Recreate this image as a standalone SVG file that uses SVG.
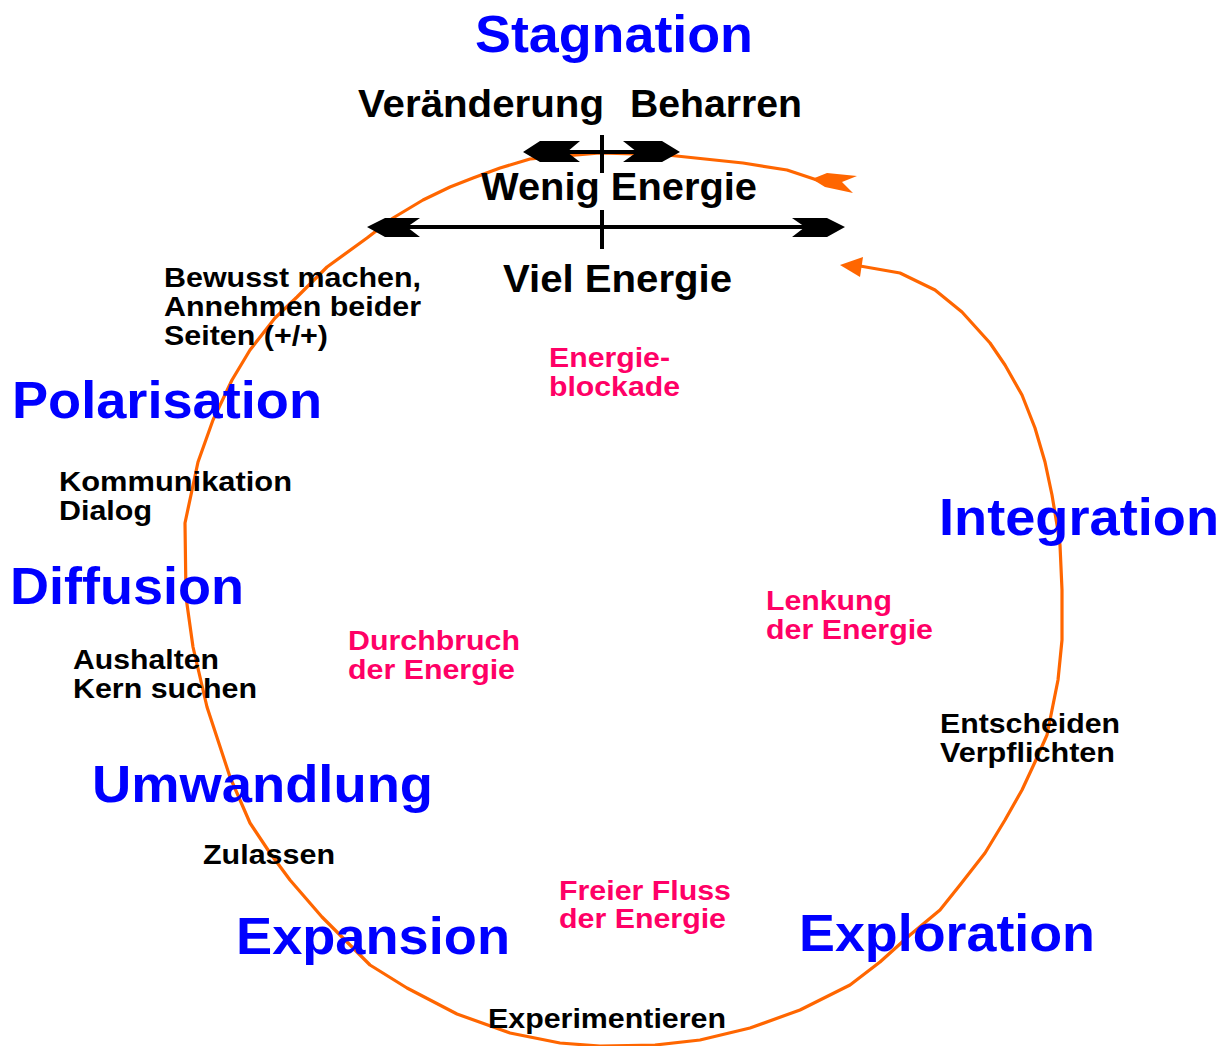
<svg xmlns="http://www.w3.org/2000/svg" width="1229" height="1046" viewBox="0 0 1229 1046">
<style>
text{font-family:"Liberation Sans",Arial,sans-serif;font-weight:bold}
.phase{fill:#0000ff;font-size:52px}
.big{fill:#000;font-size:39px}
.act{fill:#000;font-size:27px}
.en{fill:#ff0066;font-size:27px}
.orange{fill:none;stroke:#ff6600;stroke-width:3.2;stroke-linejoin:round}
.bar{stroke:#000;stroke-width:4;fill:none}
</style>
<rect width="1229" height="1046" fill="#fff"/>
<g id="connectors">
<polyline class="orange" points="860,266 900,273 935,290 962,312 990,343 1005,365 1022,395 1035,428 1045,462 1052,495 1057,525 1060,545 1062,590 1062,640 1058,680 1053,705 1047,735 1035,762 1022,790 1005,820 985,853 960,885 940,910 910,935 880,962 850,985 800,1010 750,1028 700,1040 655,1045 600,1046 560,1043 510,1033 457,1014 407,988 370,965 350,945 322,917 290,880 270,853 250,823 230,777 207,707 193,647 186,597 185,523 198,462 213,420 232,380 250,350 275,318 297,297 327,267 367,238 393,218 423,200 450,187 473,178 500,168 530,159 600,153 667,155 743,163 787,170 817,180 840,183"/>
<polygon fill="#ff6600" points="840,265 863,257 860,277"/>
<polygon fill="#ff6600" points="812,179 827,173 857,176 842,182 853,193 825,187"/>
<line class="bar" x1="565" y1="152" x2="640" y2="152"/>
<line class="bar" x1="602" y1="135" x2="602" y2="173"/>
<polygon fill="#000" points="523,152 540,141 580,141 567,152 580,162 540,162"/>
<polygon fill="#000" points="680,152 662,141 623,141 637,152 623,162 662,162"/>
<line class="bar" x1="405" y1="227" x2="808" y2="227"/>
<line class="bar" x1="602" y1="210" x2="602" y2="249"/>
<polygon fill="#000" points="367,227 385,218 420,218 407,227 420,237 385,237"/>
<polygon fill="#000" points="845,227 827,218 792,218 805,227 792,237 827,237"/>
</g>
<g id="stagnation"><text class="phase" x="475" y="52" font-size="54" textLength="278" lengthAdjust="spacingAndGlyphs">Stagnation</text></g>
<g id="veraenderung"><text class="big" x="358" y="117" textLength="246" lengthAdjust="spacingAndGlyphs">Veränderung</text></g>
<g id="beharren"><text class="big" x="630" y="117" textLength="172" lengthAdjust="spacingAndGlyphs">Beharren</text></g>
<g id="wenig-energie"><text class="big" x="481" y="200" textLength="276" lengthAdjust="spacingAndGlyphs">Wenig Energie</text></g>
<g id="viel-energie"><text class="big" x="503" y="292" textLength="229" lengthAdjust="spacingAndGlyphs">Viel Energie</text></g>
<g id="bewusst"><text class="act"><tspan x="164" y="287" textLength="257" lengthAdjust="spacingAndGlyphs">Bewusst machen,</tspan><tspan x="164" y="316" textLength="257" lengthAdjust="spacingAndGlyphs">Annehmen beider</tspan><tspan x="164" y="345" textLength="164" lengthAdjust="spacingAndGlyphs">Seiten (+/+)</tspan></text></g>
<g id="polarisation"><text class="phase" x="12" y="418" font-size="49" textLength="310" lengthAdjust="spacingAndGlyphs">Polarisation</text></g>
<g id="kommunikation"><text class="act"><tspan x="59" y="491" textLength="233" lengthAdjust="spacingAndGlyphs">Kommunikation</tspan><tspan x="59" y="520" textLength="93" lengthAdjust="spacingAndGlyphs">Dialog</tspan></text></g>
<g id="diffusion"><text class="phase" x="10" y="604" textLength="234" lengthAdjust="spacingAndGlyphs">Diffusion</text></g>
<g id="aushalten"><text class="act"><tspan x="73" y="669" textLength="146" lengthAdjust="spacingAndGlyphs">Aushalten</tspan><tspan x="73" y="698" textLength="184" lengthAdjust="spacingAndGlyphs">Kern suchen</tspan></text></g>
<g id="umwandlung"><text class="phase" x="92" y="802" textLength="341" lengthAdjust="spacingAndGlyphs">Umwandlung</text></g>
<g id="zulassen"><text class="act" x="203" y="864" textLength="132" lengthAdjust="spacingAndGlyphs">Zulassen</text></g>
<g id="expansion"><text class="phase" x="236" y="954" textLength="274" lengthAdjust="spacingAndGlyphs">Expansion</text></g>
<g id="experimentieren"><text class="act" x="488" y="1028" textLength="238" lengthAdjust="spacingAndGlyphs">Experimentieren</text></g>
<g id="exploration"><text class="phase" x="799" y="951" textLength="296" lengthAdjust="spacingAndGlyphs">Exploration</text></g>
<g id="entscheiden"><text class="act"><tspan x="940" y="733" textLength="180" lengthAdjust="spacingAndGlyphs">Entscheiden</tspan><tspan x="940" y="762" textLength="175" lengthAdjust="spacingAndGlyphs">Verpflichten</tspan></text></g>
<g id="integration"><text class="phase" x="939" y="535" textLength="280" lengthAdjust="spacingAndGlyphs">Integration</text></g>
<g id="energieblockade"><text class="en"><tspan x="549" y="367" textLength="121" lengthAdjust="spacingAndGlyphs">Energie-</tspan><tspan x="549" y="396" textLength="131" lengthAdjust="spacingAndGlyphs">blockade</tspan></text></g>
<g id="lenkung"><text class="en"><tspan x="766" y="610" textLength="126" lengthAdjust="spacingAndGlyphs">Lenkung</tspan><tspan x="766" y="639" textLength="167" lengthAdjust="spacingAndGlyphs">der Energie</tspan></text></g>
<g id="durchbruch"><text class="en"><tspan x="348" y="650" textLength="172" lengthAdjust="spacingAndGlyphs">Durchbruch</tspan><tspan x="348" y="679" textLength="167" lengthAdjust="spacingAndGlyphs">der Energie</tspan></text></g>
<g id="freier-fluss"><text class="en"><tspan x="559" y="900" textLength="172" lengthAdjust="spacingAndGlyphs">Freier Fluss</tspan><tspan x="559" y="928" textLength="167" lengthAdjust="spacingAndGlyphs">der Energie</tspan></text></g>
</svg>
